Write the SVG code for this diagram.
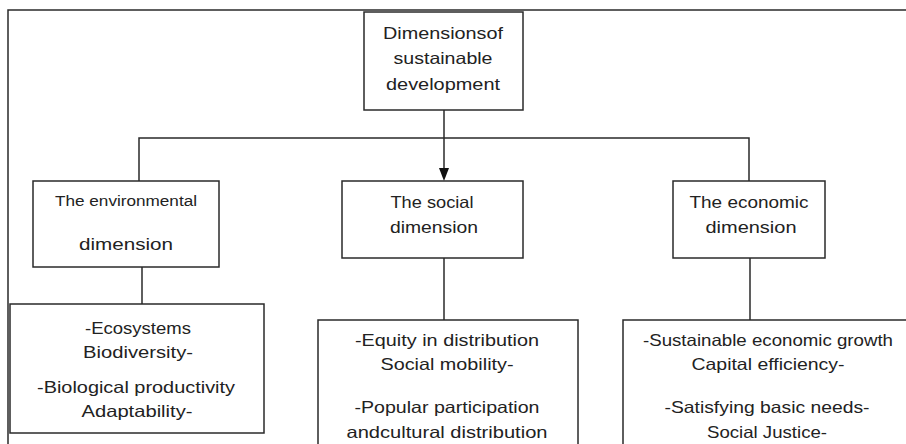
<svg xmlns="http://www.w3.org/2000/svg" width="906" height="444" viewBox="0 0 906 444">
<style>
  .box { fill: #ffffff; stroke: #2a2a2a; stroke-width: 1.5; }
  .ln { fill: none; stroke: #2a2a2a; stroke-width: 1.5; }
  text { font-family: "Liberation Sans", Arial, sans-serif; font-size: 16.5px; fill: #222222; text-anchor: middle; }
  .sm { font-size: 14px; }
</style>
<rect width="906" height="444" fill="#ffffff"/>
<g id="frame">
  <path class="ln" d="M8,444 V10 H906"/>
</g>
<g id="connectors">
  <path class="ln" d="M444,110 V138"/>
  <path class="ln" d="M139,181 V138 H749 V181"/>
  <path class="ln" d="M444,138 V169"/>
  <polygon points="439,168 449,168 444,181" fill="#111111"/>
  <path class="ln" d="M142,267 V304"/>
  <path class="ln" d="M444,258 V320"/>
  <path class="ln" d="M750,258 V320"/>
</g>
<g id="root">
  <rect class="box" x="364" y="12" width="159" height="98"/>
  <text x="443" y="39" textLength="120" lengthAdjust="spacingAndGlyphs">Dimensionsof</text>
  <text x="443" y="64" textLength="99" lengthAdjust="spacingAndGlyphs">sustainable</text>
  <text x="443" y="90" textLength="114" lengthAdjust="spacingAndGlyphs">development</text>
</g>
<g id="env">
  <rect class="box" x="33" y="181" width="186" height="86"/>
  <text class="sm" x="126" y="206" textLength="142" lengthAdjust="spacingAndGlyphs">The environmental</text>
  <text x="126" y="250" textLength="94" lengthAdjust="spacingAndGlyphs">dimension</text>
</g>
<g id="social">
  <rect class="box" x="342" y="181" width="181" height="77"/>
  <text x="432" y="208" textLength="83" lengthAdjust="spacingAndGlyphs">The social</text>
  <text x="434" y="233" textLength="88" lengthAdjust="spacingAndGlyphs">dimension</text>
</g>
<g id="econ">
  <rect class="box" x="673" y="181" width="152" height="77"/>
  <text x="749" y="208" textLength="119" lengthAdjust="spacingAndGlyphs">The economic</text>
  <text x="751" y="233" textLength="91" lengthAdjust="spacingAndGlyphs">dimension</text>
</g>
<g id="env-items">
  <rect class="box" x="10" y="304" width="254" height="129"/>
  <text x="138" y="334" textLength="106" lengthAdjust="spacingAndGlyphs">-Ecosystems</text>
  <text x="138" y="358" textLength="110" lengthAdjust="spacingAndGlyphs">Biodiversity-</text>
  <text x="136" y="393" textLength="198" lengthAdjust="spacingAndGlyphs">-Biological productivity</text>
  <text x="137" y="417" textLength="111" lengthAdjust="spacingAndGlyphs">Adaptability-</text>
</g>
<g id="social-items">
  <rect class="box" x="318" y="320" width="260" height="130"/>
  <text x="447" y="346" textLength="184" lengthAdjust="spacingAndGlyphs">-Equity in distribution</text>
  <text x="447" y="370" textLength="133" lengthAdjust="spacingAndGlyphs">Social mobility-</text>
  <text x="447" y="413" textLength="185" lengthAdjust="spacingAndGlyphs">-Popular participation</text>
  <text x="447" y="438" textLength="201" lengthAdjust="spacingAndGlyphs">andcultural distribution</text>
</g>
<g id="econ-items">
  <rect class="box" x="623" y="320" width="300" height="130"/>
  <text x="768" y="346" textLength="250" lengthAdjust="spacingAndGlyphs">-Sustainable economic growth</text>
  <text x="768" y="370" textLength="153" lengthAdjust="spacingAndGlyphs">Capital efficiency-</text>
  <text x="767" y="413" textLength="205" lengthAdjust="spacingAndGlyphs">-Satisfying basic needs-</text>
  <text x="767" y="438" textLength="120" lengthAdjust="spacingAndGlyphs">Social Justice-</text>
</g>
</svg>
